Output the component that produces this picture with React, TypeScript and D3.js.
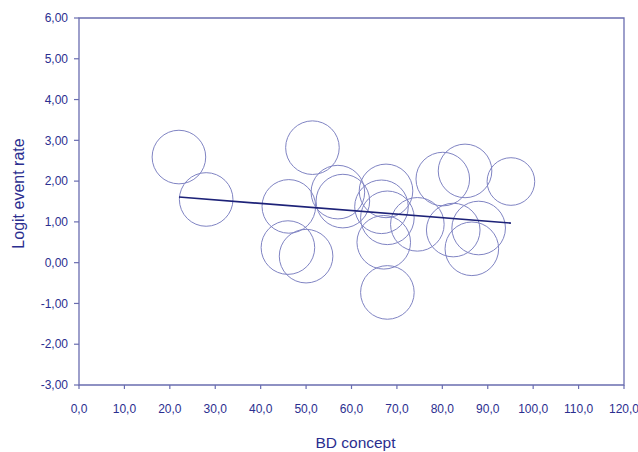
import React from "react";
import * as d3 from "d3";

const studyX = [22.0, 28.0, 46.2, 46.0, 50.0, 51.4, 57.0, 58.1, 67.6, 66.6, 67.9, 67.1, 67.9, 74.5, 80.1, 85.0, 95.1, 82.4, 88.0, 86.5];
const studyY = [2.59, 1.55, 1.38, 0.37, 0.16, 2.82, 1.73, 1.51, 1.76, 1.37, 1.10, 0.50, -0.73, 0.94, 2.05, 2.25, 1.99, 0.80, 0.85, 0.34];
const studyW = [1, 1, 1, 1, 1, 1, 1, 1, 1, 1, 1, 1, 1, 1, 1, 1, 0.79, 1, 1, 1];
const fitX = [22.0, 95.1];
const fitY = [1.61, 0.97];
const xTicks = [0, 10, 20, 30, 40, 50, 60, 70, 80, 90, 100, 110, 120];
const yTicks = [-3, -2, -1, 0, 1, 2, 3, 4, 5, 6];

const W = 638;
const H = 452;
const m = { left: 79, right: 14, top: 18, bottom: 67 };

export default function App() {
  const x = d3.scaleLinear().domain([0, 120]).range([m.left, W - m.right]);
  const y = d3.scaleLinear().domain([-3, 6]).range([H - m.bottom, m.top]);
  const r = d3.scaleSqrt().domain([0, 1]).range([0, 26.8]);
  const line = d3.line<number>().x((_, i) => x(fitX[i])).y((d) => y(d));
  const fmtY = (v: number) => v.toFixed(2).replace(".", ",");
  const fmtX = (v: number) => v.toFixed(1).replace(".", ",");
  const textC = "#2b2e8f";
  const axisC = "#6a6db0";
  const circC = "#8084c3";
  const font = "'Liberation Sans', Arial, sans-serif";
  const x0 = x(0), x1 = x(120), y0 = y(-3), y1 = y(6);
  return (
    <svg width={W} height={H} style={{ position: "absolute", left: 0, top: 0, background: "#fff" }} fontFamily={font}>
      <rect x={0} y={0} width={W} height={H} fill="#fff" />
      <path d={`M${x0},${y0}H${x1}V${y1}H${x0}Z`} fill="none" stroke={axisC} strokeWidth={1.3} />
      {yTicks.map((t) => (
        <g key={"y" + t}>
          <line x1={x0 - 5} x2={x0} y1={y(t)} y2={y(t)} stroke={axisC} strokeWidth={1.2} />
          <text x={x0 - 11} y={y(t)} dy="0.35em" textAnchor="end" fontSize={12} fill={textC}>
            {fmtY(t)}
          </text>
        </g>
      ))}
      {xTicks.map((t) => (
        <g key={"x" + t}>
          <line x1={x(t)} x2={x(t)} y1={y0} y2={y0 + 4} stroke={axisC} strokeWidth={1.2} />
          <text x={x(t)} y={y0 + 28} textAnchor="middle" fontSize={12} fill={textC}>
            {fmtX(t)}
          </text>
        </g>
      ))}
      {studyX.map((v, i) => (
        <circle key={"c" + i} cx={x(v)} cy={y(studyY[i])} r={r(studyW[i])} fill="none" stroke={circC} strokeWidth={1} />
      ))}
      <path d={line(fitY) || ""} fill="none" stroke="#1d2278" strokeWidth={1.6} />
      <text x={(x0 + x1) / 2 + 4} y={448} textAnchor="middle" fontSize={15.5} fill={textC}>
        BD concept
      </text>
      <text transform={`translate(24,${(y0 + y1) / 2 - 8}) rotate(-90)`} textAnchor="middle" fontSize={16} fill={textC}>
        Logit event rate
      </text>
    </svg>
  );
}
